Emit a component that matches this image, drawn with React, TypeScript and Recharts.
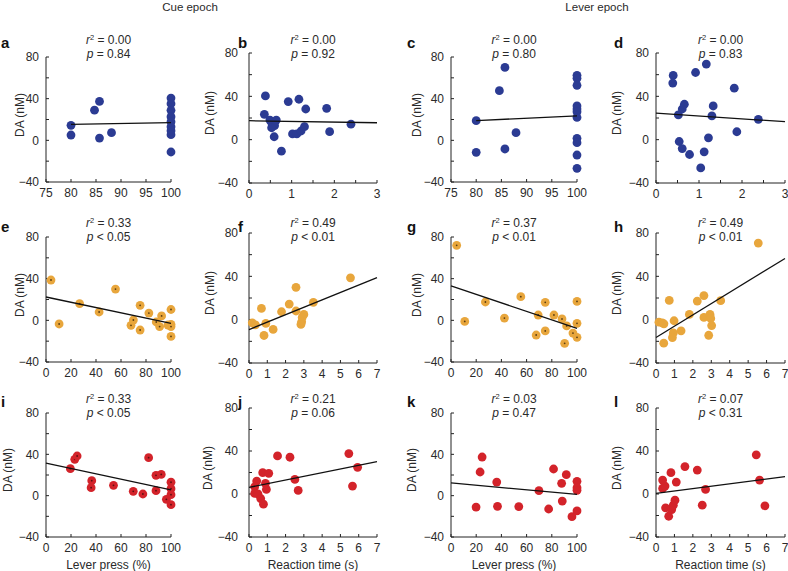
import React from "react";
import { Scatter, ScatterChart, XAxis, YAxis } from "recharts";

type Pt = [number, number];

// x: lever press (%) or reaction time (s), y: DA (nM)
const panelA: Pt[] = [
  [80, 14.4], [80, 5.1], [84.7, 29], [85.7, 37.4], [85.7, 2.2], [88.1, 7.4],
  [100, 40.6], [100, 35.2], [100, 28.8], [100, 22.7], [100, 17.9], [100, 13.1],
  [100, 9.3], [100, 5.4], [100, -11.2],
];
const panelB: Pt[] = [
  [0.385, 40.4], [0.36, 23.4], [0.49, 18.1], [0.64, 18.1], [0.54, 14.4], [0.6, 13],
  [0.53, 11], [0.59, 2.7], [0.76, -10.6], [0.92, 35.2], [1.17, 37.3], [1.02, 5.3],
  [1.12, 5.3], [1.22, 8], [1.3, 12], [1.33, 28.3], [1.82, 28.9], [1.89, 7.4], [2.39, 14.3],
];
const panelC: Pt[] = [
  [80, 18.9], [80, -11.5], [84.6, 47.7], [85.7, 70], [85.7, -8.3], [87.9, 7.4],
  [100, 62.4], [100, 59.5], [100, 52.8], [100, 33], [100, 30], [100, 27.5], [100, 22],
  [100, 1.9], [100, -2.2], [100, -14.1], [100, -26.9],
];
const panelD: Pt[] = [
  [0.4, 59.3], [0.39, 52.2], [0.52, 22.8], [0.61, 28.3], [0.66, 32.7], [0.54, -1.7],
  [0.61, -8.2], [0.78, -13.7], [0.92, 62], [1.17, 69.8], [1.04, -26.1], [1.12, -11.2],
  [1.22, 1.7], [1.3, 21.9], [1.33, 31.1], [1.82, 47.5], [1.88, 7.3], [2.38, 18.8],
];
const panelE: Pt[] = [
  [4, 38.7], [10.5, -3.5], [26.9, 16], [42.5, 8], [55.6, 30], [68, -4.8], [69.9, 0.3],
  [75.3, 14.4], [75.3, -9.3], [82.3, 7], [88.2, -1.6], [90.9, -6], [92.5, 4.2],
  [97.6, -4.5], [100, 10.4], [100, -3.8], [100, -6], [100, -15.4],
];
const panelF: Pt[] = [
  [0.18, -2.9], [0.35, -4.8], [0.68, 10.4], [0.92, -3.5], [0.82, -14.6], [1.32, -9],
  [1.78, 7.3], [2.2, 14.4], [2.57, 29.9], [2.57, 8], [3.0, 4.8], [2.91, 2.1],
  [2.88, -2], [2.84, -4.4], [3.52, 16], [5.55, 38.6],
];
const panelG: Pt[] = [
  [4.5, 72], [10.9, -1], [27.3, 17.6], [42.4, 2.2], [55.4, 22.7], [67.6, -14.1],
  [69.2, 5.1], [74.8, 17.3], [74.8, -10.2], [81.7, 5.1], [88.1, 1.3], [90.2, -22.1],
  [91.8, -5.4], [96.8, -12.2], [100, 18.2], [100, -2.9], [100, -16.3],
];
const panelH: Pt[] = [
  [0.16, -2.3], [0.34, -2.9], [0.43, -3.8], [0.42, -21.7], [0.72, 17.8], [0.98, -1],
  [0.94, -12.2], [0.89, -16.5], [1.36, -10.3], [1.81, 4.8], [2.24, 17.2], [2.6, 22.2],
  [2.6, 2.1], [2.93, 4.8], [2.97, 1.1], [3.02, -5.4], [2.86, -14.4], [3.51, 17.5],
  [5.55, 70.7],
];
const panelI: Pt[] = [
  [19.5, 26.1], [23, 35.2], [24.9, 38.4], [36.6, 14.5], [36.1, 7.7], [54, 10],
  [69.8, 4.2], [77.5, 1.6], [82.1, 36.8], [88, 19.7], [88, 4.8], [92.2, 20.6],
  [96.3, -3.5], [100, 13], [100, 6.8], [100, 1], [100, -8.7],
];
const panelJ: Pt[] = [
  [0.31, 6.7], [0.31, 0.5], [0.42, 12], [0.49, 0.2], [0.64, -4.2], [0.79, -9.5],
  [0.75, 19.8], [0.9, 9.9], [0.95, 4.3], [1.08, 19.2], [1.56, 35.4], [2.24, 34.2],
  [2.51, 13.6], [2.69, 3.3], [5.46, 37.6], [5.66, 7.4], [5.94, 24.8],
];
const panelK: Pt[] = [
  [19.9, -11], [23.1, 22.9], [24.7, 37.4], [36.3, 13.2], [36.9, -10.3], [53.8, -10.6],
  [69.8, 4.8], [77.5, -12.9], [81.4, 25.8], [87.8, 11.9], [88.3, -5.2], [91.5, 20.3],
  [96, -20.3], [100, 13.9], [100, 7.7], [100, 5.2], [100, -14.8],
];
const panelL: Pt[] = [
  [0.36, 13], [0.36, 5.2], [0.49, 7.4], [0.52, -12.9], [0.69, -20.7], [0.81, 19.8],
  [0.85, -14.5], [0.94, -10.4], [1.03, -5.7], [1.1, 11.1], [1.57, 25.5], [2.24, 22.3],
  [2.51, -10.4], [2.69, 4.3], [5.44, 36.4], [5.62, 13], [5.91, -11],
];

// regression line end points
const fitA: Pt[] = [[80, 15.4], [100, 17]];
const fitB: Pt[] = [[0, 17.5], [3, 15.6]];
const fitC: Pt[] = [[80, 19], [100, 23.4]];
const fitD: Pt[] = [[0, 24.5], [3, 16.6]];
const fitE: Pt[] = [[0, 22.4], [100, -2.9]];
const fitF: Pt[] = [[0, -9.1], [7, 38.9]];
const fitG: Pt[] = [[0, 33], [100, -7.7]];
const fitH: Pt[] = [[0, -16.5], [7, 56.5]];
const fitI: Pt[] = [[0, 31.5], [100, 5.5]];
const fitJ: Pt[] = [[0, 6.1], [7, 30.1]];
const fitK: Pt[] = [[0, 12.3], [100, 1.3]];
const fitL: Pt[] = [[0, 0.5], [7, 16.1]];

const r2Values = ["0.00", "0.00", "0.00", "0.00", "0.33", "0.49", "0.37", "0.49", "0.33", "0.21", "0.03", "0.07"];
const pValues = ["= 0.84", "= 0.92", "= 0.80", "= 0.83", "< 0.05", "< 0.01", "< 0.01", "< 0.01", "< 0.05", "= 0.06", "= 0.47", "< 0.31"];
const panelLetters = ["a", "b", "c", "d", "e", "f", "g", "h", "i", "j", "k", "l"];

const pressTicksHigh = [75, 80, 85, 90, 95, 100];
const pressTicks = [0, 20, 40, 60, 80, 100];
const rtTicksShort = [0, 0.5, 1, 1.5, 2, 2.5, 3];
const rtTicksLong = [0, 1, 2, 3, 4, 5, 6, 7];
const daTicks = [-40, -20, 0, 20, 40, 60, 80];

const FONT = '"Liberation Sans", Arial, Helvetica, sans-serif';
const TEXT = "#2a2a2a";
const BLUE = "#2b3b93";
const ORANGE = "#e8a63c";
const RED = "#d3232a";

// layout
const colX = [46, 249, 451, 656];
const colW = [125, 128, 126, 129];
const colTickMargin = [10, 14, 10, 10];
const rowTop = [
  [57, 53],
  [237, 233],
  [413, 408],
];
const rowH = [
  [125, 130],
  [125, 130],
  [124, 129],
];
const letterX = [1, 238, 407, 614];
const letterBase = [48, 232, 407];
const annotY = [34, 217, 393];
const yLabelX = [
  [20, 210, 417, 617],
  [20, 210, 417, 617],
  [8, 208, 412, 617],
];

const toXY = (pts: Pt[]) => pts.map(([x, y]) => ({ x, y }));

const dotShape = (fill: string, core?: string) => (props: any) => (
  <g>
    <circle cx={props.cx} cy={props.cy} r={4.4} fill={fill} />
    {core ? <circle cx={props.cx} cy={props.cy} r={0.9} fill={core} /> : null}
  </g>
);

const noShape = () => <g />;

type Cfg = {
  points: Pt[];
  fit: Pt[];
  color: string;
  core?: string;
  xDomain: [number, number];
  xTicks: number[];
};

const configs: Cfg[] = [
  { points: panelA, fit: fitA, color: BLUE, xDomain: [75, 100], xTicks: pressTicksHigh },
  { points: panelB, fit: fitB, color: BLUE, xDomain: [0, 3], xTicks: rtTicksShort },
  { points: panelC, fit: fitC, color: BLUE, xDomain: [75, 100], xTicks: pressTicksHigh },
  { points: panelD, fit: fitD, color: BLUE, xDomain: [0, 3], xTicks: rtTicksShort },
  { points: panelE, fit: fitE, color: ORANGE, core: "#5a3d12", xDomain: [0, 100], xTicks: pressTicks },
  { points: panelF, fit: fitF, color: ORANGE, xDomain: [0, 7], xTicks: rtTicksLong },
  { points: panelG, fit: fitG, color: ORANGE, core: "#5a3d12", xDomain: [0, 100], xTicks: pressTicks },
  { points: panelH, fit: fitH, color: ORANGE, xDomain: [0, 7], xTicks: rtTicksLong },
  { points: panelI, fit: fitI, color: RED, core: "#5a1010", xDomain: [0, 100], xTicks: pressTicks },
  { points: panelJ, fit: fitJ, color: RED, xDomain: [0, 7], xTicks: rtTicksLong },
  { points: panelK, fit: fitK, color: RED, xDomain: [0, 100], xTicks: pressTicks },
  { points: panelL, fit: fitL, color: RED, xDomain: [0, 7], xTicks: rtTicksLong },
];

const ML = 5;
const YW = 40;
const MT = 8;
const MR = 14;
const XH = 25;
const MB = 5;

const tickStyle = { fill: TEXT, fontSize: 12, fontFamily: FONT };

function Panel({ cfg, x, y, w, h, ytm }: { cfg: Cfg; x: number; y: number; w: number; h: number; ytm: number }) {
  return (
    <div style={{ position: "absolute", left: x - ML - YW, top: y - MT }}>
      <ScatterChart
        width={w + ML + YW + MR}
        height={h + MT + XH + MB}
        margin={{ top: MT, right: MR, bottom: MB, left: ML }}
        style={{ overflow: "visible" }}
      >
        <XAxis
          type="number"
          dataKey="x"
          domain={cfg.xDomain}
          ticks={cfg.xTicks}
          interval={0}
          height={XH}
          tickSize={-3}
          tickMargin={9}
          tick={tickStyle}
          tickFormatter={(v: number) => (Number.isInteger(v) ? String(v) : "")}
          axisLine={{ stroke: "#222" }}
          tickLine={{ stroke: "#222" }}
        />
        <YAxis
          type="number"
          dataKey="y"
          domain={[-40, 80]}
          ticks={daTicks}
          interval={0}
          width={YW}
          tickSize={-3}
          tickMargin={ytm}
          tick={tickStyle}
          tickFormatter={(v: number) => (v % 40 === 0 ? String(v).replace("-", "\u2212") : "")}
          axisLine={{ stroke: "#222" }}
          tickLine={{ stroke: "#222" }}
        />
        <Scatter data={toXY(cfg.points)} shape={dotShape(cfg.color, cfg.core)} isAnimationActive={false} />
        <Scatter
          data={toXY(cfg.fit)}
          line={{ stroke: "#111", strokeWidth: 1.3 }}
          shape={noShape}
          isAnimationActive={false}
        />
      </ScatterChart>
    </div>
  );
}

export default function App() {
  const items: React.ReactNode[] = [];
  configs.forEach((cfg, i) => {
    const row = Math.floor(i / 4);
    const col = i % 4;
    const odd = col % 2;
    const x = colX[col];
    const w = colW[col];
    const y = rowTop[row][odd];
    const h = rowH[row][odd];
    const cx = x + w / 2;
    items.push(<Panel key={"p" + i} cfg={cfg} x={x} y={y} w={w} h={h} ytm={colTickMargin[col]} />);
    items.push(
      <div
        key={"l" + i}
        style={{
          position: "absolute",
          left: letterX[col],
          top: letterBase[row] - 9.5,
          fontSize: 15,
          fontWeight: "bold",
          lineHeight: "8px",
          color: "#111",
        }}
      >
        {panelLetters[i]}
      </div>
    );
    items.push(
      <div
        key={"s" + i}
        style={{
          position: "absolute",
          left: cx - 50,
          width: 100,
          top: annotY[row],
          textAlign: "center",
          fontSize: 12,
          lineHeight: "12px",
          color: TEXT,
        }}
      >
        <div>
          <i>r</i>
          <span style={{ fontSize: 7.5, position: "relative", top: -4 }}>2</span> = {r2Values[i]}
        </div>
        <div>
          <i>p</i> {pValues[i]}
        </div>
      </div>
    );
    items.push(
      <div
        key={"y" + i}
        style={{
          position: "absolute",
          left: yLabelX[row][col] - 40,
          top: y + h / 2 - 5 - 7,
          width: 80,
          height: 14,
          lineHeight: "14px",
          textAlign: "center",
          fontSize: 12,
          color: TEXT,
          transform: "rotate(-90deg)",
        }}
      >
        DA (nM)
      </div>
    );
    if (row === 2) {
      items.push(
        <div
          key={"x" + i}
          style={{
            position: "absolute",
            left: cx - 60,
            width: 120,
            top: 558,
            textAlign: "center",
            fontSize: 12,
            lineHeight: "14px",
            color: TEXT,
          }}
        >
          {col % 2 === 0 ? "Lever press (%)" : "Reaction time (s)"}
        </div>
      );
    }
  });

  return (
    <div
      style={{
        position: "absolute",
        left: 0,
        top: 0,
        width: 788,
        height: 571,
        background: "#fff",
        fontFamily: FONT,
        overflow: "hidden",
      }}
    >
      <div style={{ position: "absolute", left: 140, width: 100, top: 0, textAlign: "center", fontSize: 11.5, lineHeight: "14px", color: TEXT }}>
        Cue epoch
      </div>
      <div style={{ position: "absolute", left: 547, width: 100, top: 0, textAlign: "center", fontSize: 11.5, lineHeight: "14px", color: TEXT }}>
        Lever epoch
      </div>
      {items}
    </div>
  );
}
